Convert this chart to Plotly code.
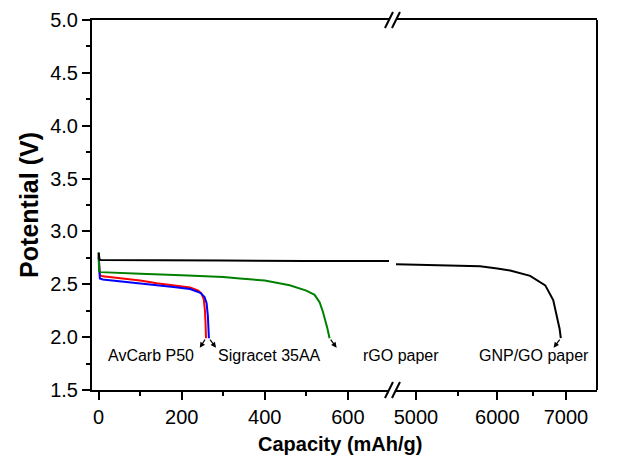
import math
import plotly.graph_objects as go

# ---------------- data ----------------
# AvCarb P50 (red)
avcarb_x = [0, 1, 3, 10, 50, 100, 140, 180, 220, 240, 248, 253, 256, 257.5, 258.5]
avcarb_y = [2.78, 2.62, 2.585, 2.575, 2.56, 2.535, 2.51, 2.49, 2.47, 2.44, 2.41, 2.36, 2.25, 2.12, 1.99]

# Sigracet 35AA (blue)
sigracet_x = [0, 1, 3, 10, 50, 100, 140, 180, 220, 245, 255, 260, 263, 264.5, 265.5]
sigracet_y = [2.76, 2.6, 2.555, 2.545, 2.53, 2.51, 2.49, 2.475, 2.455, 2.42, 2.38, 2.32, 2.2, 2.1, 1.99]

# rGO paper (green)
rgo_x = [0, 1, 5, 50, 100, 200, 300, 340, 400, 460, 500, 520, 532, 540, 546, 551, 556]
rgo_y = [2.8, 2.63, 2.615, 2.605, 2.6, 2.585, 2.57, 2.555, 2.535, 2.49, 2.44, 2.4, 2.33, 2.24, 2.16, 2.08, 1.99]

# GNP/GO paper (black) - low-capacity part and high-capacity part
gnp_lo_x = [0, 2, 5, 100, 300, 500, 720]
gnp_lo_y = [2.8, 2.735, 2.73, 2.73, 2.725, 2.72, 2.72]
gnp_hi_x = [4700, 5000, 5500, 5773, 6000, 6176, 6459, 6682, 6802, 6868, 6900, 6919]
gnp_hi_y = [2.69, 2.685, 2.675, 2.67, 2.65, 2.63, 2.58, 2.49, 2.35, 2.18, 2.08, 1.99]

# tick labels
x_lo_ticks = [0, 200, 400, 600]
x_lo_minor = [100, 300, 500]
x_hi_ticks = [5000, 6000, 7000]
x_hi_minor = [5500, 6500]

labels = ["AvCarb P50", "Sigracet 35AA", "rGO paper", "GNP/GO paper"]

FONT = "Arial, Liberation Sans, sans-serif"
LW = 2

fig = go.Figure()
fig.add_trace(go.Scatter(x=avcarb_x, y=avcarb_y, mode="lines",
                         line=dict(color="#ff0000", width=LW), xaxis="x", yaxis="y"))
fig.add_trace(go.Scatter(x=sigracet_x, y=sigracet_y, mode="lines",
                         line=dict(color="#0000ff", width=LW), xaxis="x", yaxis="y"))
fig.add_trace(go.Scatter(x=rgo_x, y=rgo_y, mode="lines",
                         line=dict(color="#008000", width=LW), xaxis="x", yaxis="y"))
fig.add_trace(go.Scatter(x=gnp_lo_x, y=gnp_lo_y, mode="lines",
                         line=dict(color="#000000", width=LW), xaxis="x", yaxis="y"))
fig.add_trace(go.Scatter(x=gnp_hi_x, y=gnp_hi_y, mode="lines",
                         line=dict(color="#000000", width=LW), xaxis="x2", yaxis="y"))

axis_common = dict(showline=True, linecolor="black", linewidth=2,
                   ticks="outside", tickcolor="black", tickwidth=2, ticklen=8,
                   showgrid=False, zeroline=False, automargin=False,
                   tickfont=dict(family=FONT, size=20, color="black"))

fig.update_layout(
    width=629, height=472,
    margin=dict(l=92, r=32, t=20, b=82),
    paper_bgcolor="white", plot_bgcolor="white",
    showlegend=False,
    xaxis=dict(domain=[0, 0.588], range=[-16, 699], anchor="y", mirror=True,
               tickmode="array", tickvals=x_lo_ticks,
               minor=dict(tickmode="array", tickvals=x_lo_minor, ticks="outside",
                          ticklen=4, tickwidth=2, tickcolor="black"),
               **axis_common),
    xaxis2=dict(domain=[0.602, 1], type="log", range=[3.6795, 3.8753], anchor="y", mirror=True,
                tickmode="array", tickvals=x_hi_ticks, ticktext=[str(v) for v in x_hi_ticks],
                minor=dict(tickmode="array", tickvals=x_hi_minor, ticks="outside",
                           ticklen=4, tickwidth=2, tickcolor="black"),
                **axis_common),
    yaxis=dict(range=[1.5, 5.0], dtick=0.5, tick0=1.5, tickformat=".1f", mirror=False,
               minor=dict(dtick=0.25, ticks="outside", ticklen=4, tickwidth=2, tickcolor="black"),
               **axis_common),
)

# y title
fig.add_annotation(xref="paper", yref="paper", x=-0.125, y=0.5, xanchor="center", yanchor="middle",
                   text="<b>Potential (V)</b>", showarrow=False, textangle=-90,
                   font=dict(family=FONT, size=25, color="black"))
# shared x title
fig.add_annotation(xref="paper", yref="paper", x=0.492, y=-0.145, xanchor="center", yanchor="middle",
                   text="<b>Capacity (mAh/g)</b>", showarrow=False,
                   font=dict(family=FONT, size=20, color="black"))

# right frame line
fig.add_shape(type="line", xref="paper", yref="paper", x0=1, x1=1, y0=0, y1=1,
              line=dict(color="black", width=2))

# axis break marks
for yb in (0, 1):
    for dx in (-3.5, 3.5):
        fig.add_shape(type="line", xref="paper", yref="paper",
                      xsizemode="pixel", ysizemode="pixel",
                      xanchor=0.595, yanchor=yb,
                      x0=dx - 4, x1=dx + 4, y0=-8, y1=8,
                      line=dict(color="black", width=2))

# curve labels
label_x = [0.1178, 0.3505, 0.612, 0.8752]
for txt, lx in zip(labels, label_x):
    fig.add_annotation(xref="paper", yref="paper", x=lx, y=0.094, text=txt,
                       xanchor="center", yanchor="middle",
                       showarrow=False, font=dict(family=FONT, size=16, color="black"))

# arrows from curve end to label
arrow_style = dict(text="", showarrow=True, arrowhead=2, arrowsize=0.9, arrowwidth=1.2,
                   arrowcolor="black")
fig.add_annotation(xref="x", yref="y", axref="x", ayref="y",
                   x=avcarb_x[-1] - 15, y=1.9, ax=avcarb_x[-1], ay=avcarb_y[-1], **arrow_style)
fig.add_annotation(xref="x", yref="y", axref="x", ayref="y",
                   x=sigracet_x[-1] + 17, y=1.9, ax=sigracet_x[-1], ay=sigracet_y[-1], **arrow_style)
fig.add_annotation(xref="x", yref="y", axref="x", ayref="y",
                   x=rgo_x[-1] + 17, y=1.9, ax=rgo_x[-1], ay=rgo_y[-1], **arrow_style)
fig.add_annotation(xref="x2", yref="y", axref="x2", ayref="y",
                   x=math.log10(gnp_hi_x[-1]) - 0.007, y=1.9,
                   ax=math.log10(gnp_hi_x[-1]), ay=gnp_hi_y[-1], **arrow_style)

fig.write_html("out.html", config={"displayModeBar": False},
               post_script="document.body.style.margin='0';")
